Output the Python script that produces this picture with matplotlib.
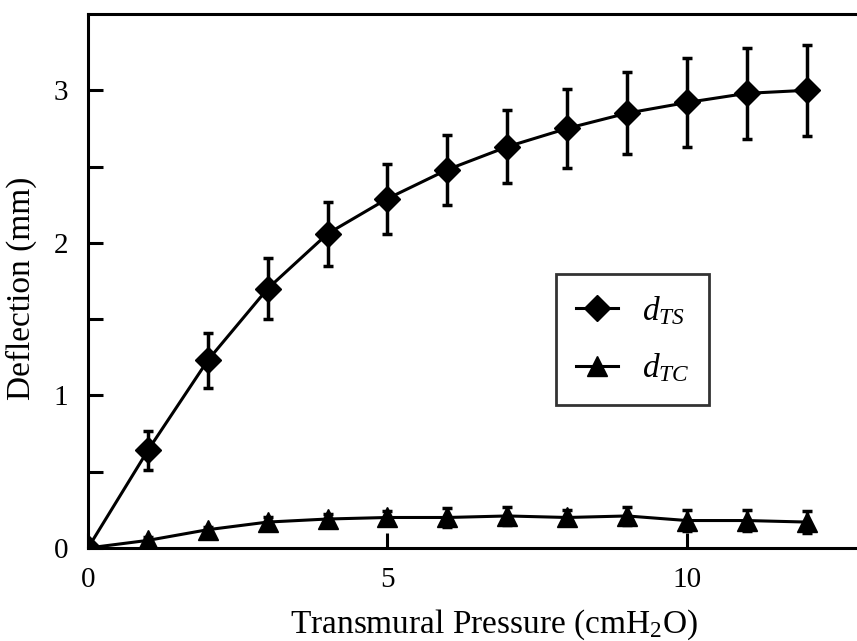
import numpy as np
import matplotlib
matplotlib.use('Agg')
import matplotlib.pyplot as plt
from matplotlib.lines import Line2D

# Deflection vs transmural pressure

plt.rcParams['font.family'] = ['Liberation Serif', 'DejaVu Serif']
plt.rcParams['mathtext.fontset'] = 'custom'
plt.rcParams['mathtext.rm'] = 'Liberation Serif'
plt.rcParams['mathtext.it'] = 'Liberation Serif:italic'

# Data
pressure = [0, 1, 2, 3, 4, 5, 6, 7, 8, 9, 10, 11, 12]
d_ts = [0.0, 0.64, 1.23, 1.70, 2.06, 2.29, 2.48, 2.63, 2.75, 2.85, 2.92, 2.98, 3.00]
d_ts_err = [0.0, 0.13, 0.18, 0.20, 0.21, 0.23, 0.23, 0.24, 0.26, 0.27, 0.29, 0.30, 0.30]
d_tc = [0.0, 0.05, 0.12, 0.17, 0.19, 0.20, 0.20, 0.21, 0.20, 0.21, 0.18, 0.18, 0.17]
d_tc_err = [0.0, 0.02, 0.02, 0.03, 0.03, 0.04, 0.06, 0.06, 0.05, 0.06, 0.07, 0.07, 0.07]

fig = plt.figure(figsize=(8.57, 6.41), dpi=100)
ax = fig.add_axes([88/857, 1 - 548/641, 1 - 88/857, 534/641])

ax.errorbar(pressure, d_ts, yerr=d_ts_err, color='black', lw=2.2, marker='D',
            markersize=13, elinewidth=2.5, capsize=3.5, capthick=2.5)
ax.errorbar(pressure, d_tc, yerr=d_tc_err, color='black', lw=2.2, marker='^',
            markersize=15, elinewidth=2.5, capsize=3.5, capthick=2.5)

ax.set_xlim(0, 769/59.9)
ax.set_ylim(0, 3.5)
ax.set_xticks([0, 5, 10])
ax.set_yticks([0, 1, 2, 3])
ax.set_yticks([0.5, 1.5, 2.5], minor=True)
ax.tick_params(direction='in', length=11, width=2.2, labelsize=21, pad=14)
ax.tick_params(axis='x', pad=14)
ax.tick_params(which='minor', direction='in', length=11, width=2.2)

for s in ['left', 'top', 'bottom']:
    ax.spines[s].set_linewidth(2.2)
ax.spines['right'].set_visible(False)

ax.set_xlabel('Transmural Pressure (cmH$_2$O)', fontsize=24)
ax.xaxis.set_label_coords(0.528, -0.111)
ax.set_ylabel('Deflection (mm)', fontsize=24)
ax.yaxis.set_label_coords(-0.066, 0.487)

# legend without error bars in the handles
h_ts = Line2D([], [], color='black', lw=2.2, marker='D', markersize=13)
h_tc = Line2D([], [], color='black', lw=2.2, marker='^', markersize=15)
leg = ax.legend([h_ts, h_tc], [r'$d_{TS}$', r'$d_{TC}$'], loc='upper left',
                bbox_to_anchor=(0.609, 0.513), fontsize=24,
                frameon=True, fancybox=False, edgecolor='black', handlelength=1.26,
                borderpad=0.6, labelspacing=0.75, handletextpad=0.7, borderaxespad=0)
leg.get_frame().set_linewidth(2)

fig.savefig('out.png', dpi=100)
